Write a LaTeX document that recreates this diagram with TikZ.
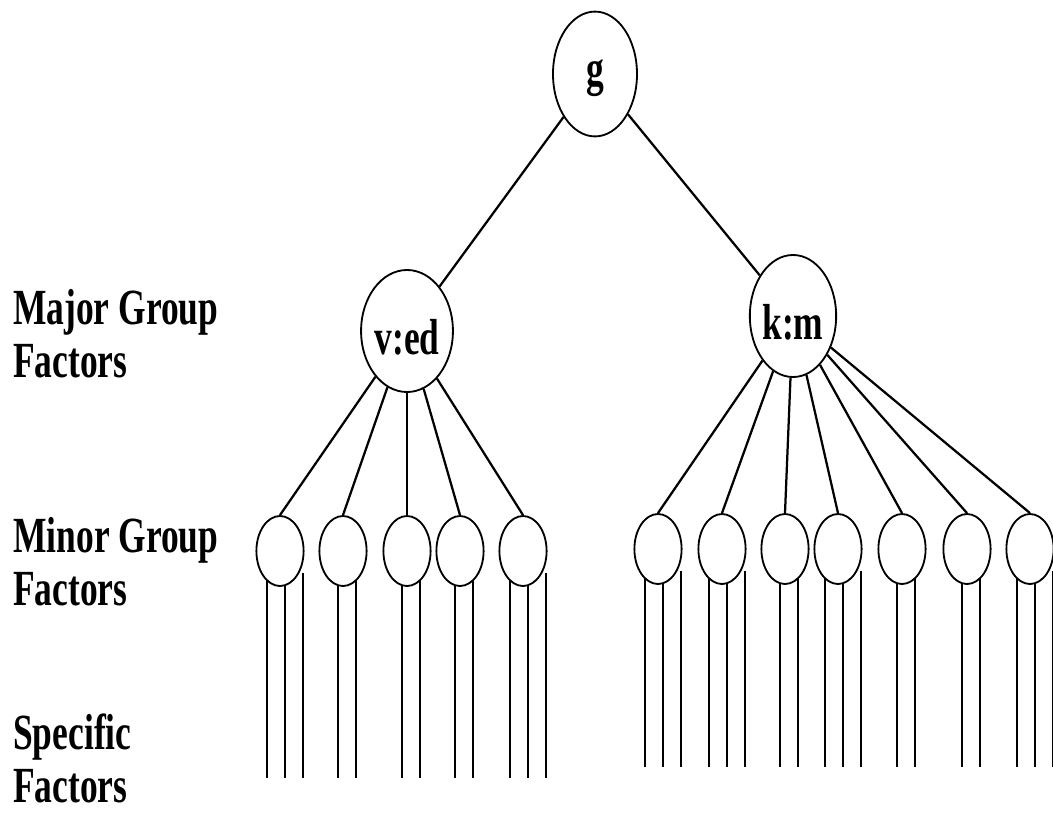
\documentclass[tikz,border=0pt]{standalone}
\usepackage{fontspec}
\setmainfont{Liberation Serif}[FakeStretch=0.7]
\usepackage{tikz}
\usetikzlibrary{shapes.geometric,calc,backgrounds}

\tikzset{
factor/.style={draw, ellipse, line width=1.3pt, fill=white, inner sep=0pt},
major/.style={factor, minimum width=2.05cm, minimum height=3.05cm,
    text height=33pt, text depth=0pt},
minor/.style={factor, minimum width=1.18cm, minimum height=1.75cm},
tie/.style={line width=1.6pt},
lab/.style={anchor=base west, align=left, inner sep=0pt},
}

\begin{document}
\begin{tikzpicture}[x=0.025cm, y=-0.025cm,
font=\fontsize{36}{37}\selectfont\bfseries]
\useasboundingbox (0,0) rectangle (1053,816);

\node[lab] (major) at (13,377) {Major Group\\Factors};
\node[lab] (minor) at (13,605) {Minor Group\\Factors};
\node[lab] (specific) at (13,802) {Specific\\Factors};

\node[major, minimum width=2.1cm, minimum height=3.12cm, text height=16pt] (g) at (595,74) {g};
\node[major] (ved) at (407,331) {v:ed};
\node[major] (km) at (793,316) {k:m};
\foreach \i/\x in {1/280,2/343,3/407,4/460,5/523}
    \node[minor] (m\i) at (\x,551) {};
\foreach \i/\x in {6/658,7/722,8/785,9/838,10/902,11/967,12/1030}
    \node[minor] (m\i) at (\x,549) {};

\draw[tie] (g) -- (ved) (g) -- (km);
\foreach \i in {1,...,5}
    \draw[tie] (ved) -- (m\i.north);
\foreach \i in {6,...,12}
    \draw[tie] (km) -- (m\i.north);

% specific factors hang below the minor ones
\begin{scope}[on background layer]
\foreach \i/\h in {1/205,5/205,6/196,7/196,9/196,12/196}
    \foreach \d in {-13,5,23}
        \draw[tie] ($(m\i)+(\d,22)$) -- ++(0,\h);
\foreach \i/\h in {2/205,3/205,4/205,8/196,10/196,11/196}
    \foreach \d in {-5,13}
        \draw[tie] ($(m\i)+(\d,22)$) -- ++(0,\h);
\end{scope}
\end{tikzpicture}
\end{document}
